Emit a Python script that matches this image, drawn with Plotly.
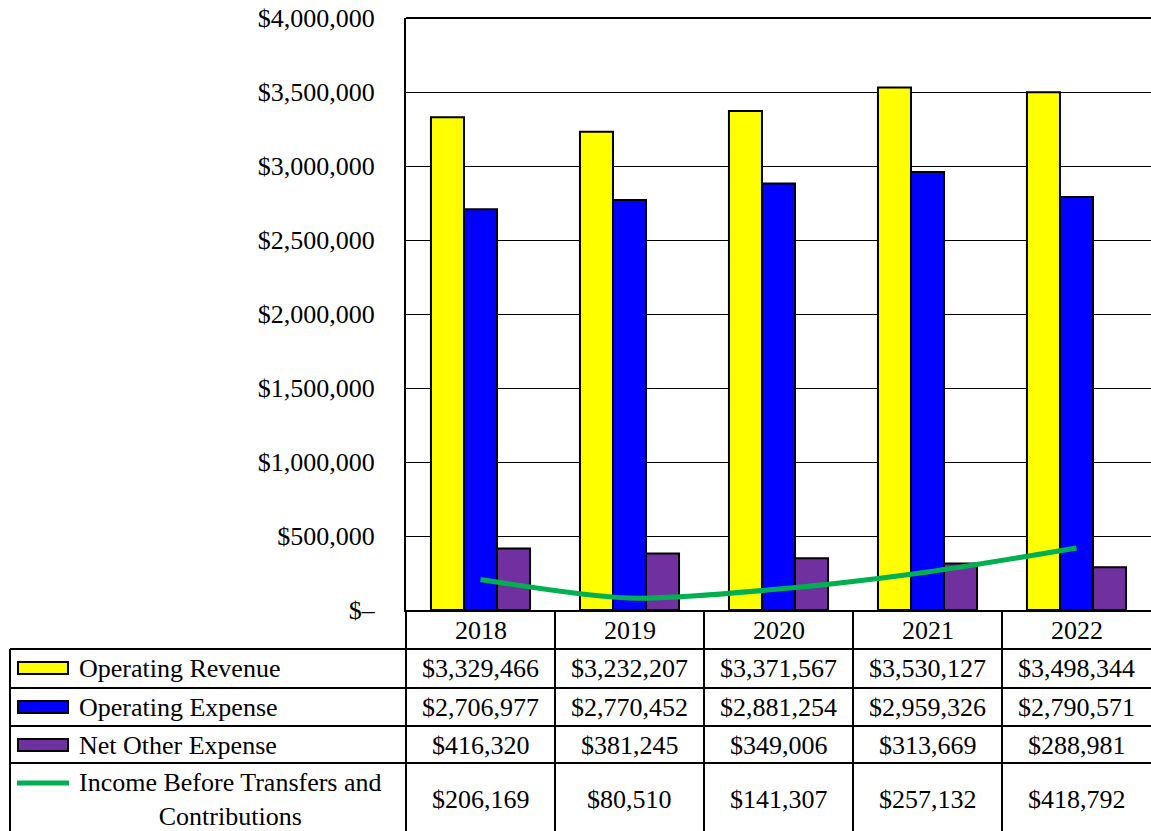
import plotly.graph_objects as go

# ---- data ----
years = ["2018", "2019", "2020", "2021", "2022"]
operating_revenue = [3329466, 3232207, 3371567, 3530127, 3498344]
operating_expense = [2706977, 2770452, 2881254, 2959326, 2790571]
net_other_expense = [416320, 381245, 349006, 313669, 288981]
income_before = [206169, 80510, 141307, 257132, 418792]

series_names = ["Operating Revenue", "Operating Expense", "Net Other Expense",
                "Income Before Transfers and<br>Contributions"]
tick_vals = [0, 500000, 1000000, 1500000, 2000000, 2500000, 3000000, 3500000, 4000000]
tick_text = ["$\u2013", "$500,000", "$1,000,000", "$1,500,000", "$2,000,000",
             "$2,500,000", "$3,000,000", "$3,500,000", "$4,000,000"]

# ---- page geometry (pixels) ----
W, H = 1151, 831
PL, PR, PT, PB = 406, 1151, 18, 610
FONT = "Liberation Serif"
FS = 26


def px_x(p):
    return (p - PL) / (PR - PL)


def px_y(p):
    return (PB - p) / (PB - PT)


def money(v):
    return "${:,}".format(v)


fig = go.Figure()
fig.add_trace(go.Bar(x=years, y=operating_revenue, name=series_names[0],
                     marker=dict(color="#FFFF00", line=dict(color="black", width=2))))
fig.add_trace(go.Bar(x=years, y=operating_expense, name=series_names[1],
                     marker=dict(color="#0000FF", line=dict(color="black", width=2))))
fig.add_trace(go.Bar(x=years, y=net_other_expense, name=series_names[2],
                     marker=dict(color="#7030A0", line=dict(color="black", width=2))))
fig.add_trace(go.Scatter(x=years, y=income_before, name=series_names[3], mode="lines",
                         line=dict(color="#00B050", width=5, shape="spline", smoothing=0.8)))

shapes = []
line_k = dict(color="black", width=2)
# frame top edge of plot
shapes.append(dict(type="line", xref="paper", yref="paper", x0=0, x1=1, y0=1, y1=1, line=line_k))
# table horizontal rules
for yp in [649, 688, 726, 763]:
    shapes.append(dict(type="line", xref="paper", yref="paper",
                       x0=px_x(10), x1=1, y0=px_y(yp), y1=px_y(yp), line=line_k))
# table vertical rules
shapes.append(dict(type="line", xref="paper", yref="paper",
                   x0=px_x(10), x1=px_x(10), y0=px_y(649), y1=px_y(H + 5), line=line_k))
for i in range(len(years)):
    xb = i / len(years)
    shapes.append(dict(type="line", xref="paper", yref="paper",
                       x0=xb, x1=xb, y0=0, y1=px_y(H + 5), line=line_k))

# legend keys in the table's first column
key_colors = ["#FFFF00", "#0000FF", "#7030A0"]
row_centers = [668, 707, 745]
for c, yc in zip(key_colors, row_centers):
    shapes.append(dict(type="rect", xref="paper", yref="paper",
                       x0=px_x(18), x1=px_x(68), y0=px_y(yc + 6), y1=px_y(yc - 6),
                       fillcolor=c, line=dict(color="black", width=2)))
shapes.append(dict(type="line", xref="paper", yref="paper",
                   x0=px_x(17), x1=px_x(69), y0=px_y(783), y1=px_y(783),
                   line=dict(color="#00B050", width=5)))

annotations = []
font = dict(family=FONT, size=FS, color="black")
# row labels
for name, yc in zip(series_names[:3], row_centers):
    annotations.append(dict(xref="paper", yref="paper", x=px_x(77), y=px_y(yc),
                            text=name, showarrow=False, xanchor="left", yanchor="middle",
                            font=font))
annotations.append(dict(xref="paper", yref="paper", x=px_x(77), y=px_y(799),
                        text=series_names[3], showarrow=False, xanchor="left",
                        yanchor="middle", align="center", font=font))

# year header row and value cells (category index positions on the x axis)
rows = [operating_revenue, operating_expense, net_other_expense, income_before]
row_y = [668, 707, 745, 799]
for i, yr in enumerate(years):
    annotations.append(dict(xref="x", yref="paper", x=i, y=px_y(630), text=yr,
                            showarrow=False, xanchor="center", yanchor="middle", font=font))
    for vals, yc in zip(rows, row_y):
        annotations.append(dict(xref="x", yref="paper", x=i, y=px_y(yc),
                                text=money(vals[i]), showarrow=False,
                                xanchor="center", yanchor="middle", font=font))

fig.update_layout(
    width=W, height=H,
    margin=dict(l=PL, r=W - PR, t=PT, b=H - PB, pad=0),
    paper_bgcolor="white", plot_bgcolor="white",
    barmode="group", bargap=0.335, bargroupgap=0,
    showlegend=False,
    font=font,
    shapes=shapes,
    annotations=annotations,
    xaxis=dict(type="category", categoryorder="array", categoryarray=years,
               range=[-0.5, len(years) - 0.5], autorange=False,
               showticklabels=False, ticks="", showgrid=False, showline=True,
               linecolor="black", linewidth=2, zeroline=False, fixedrange=True),
    yaxis=dict(range=[0, 4000000], autorange=False, tickvals=tick_vals, ticktext=tick_text,
               ticks="", ticklabelstandoff=24, showgrid=True, gridcolor="black",
               gridwidth=1, showline=True, linecolor="black", linewidth=2,
               zeroline=False, tickfont=font, fixedrange=True),
)

fig.write_html("out.html")
